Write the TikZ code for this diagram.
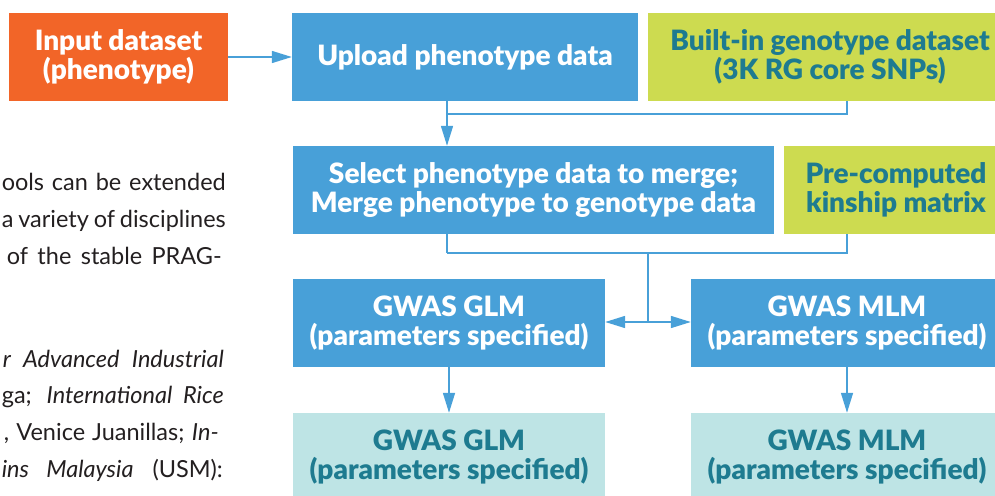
\documentclass[tikz,border=0pt]{standalone}
\usepackage{fontspec}
\setmainfont{Lato}
\newfontfamily\boxfont{Lato Black}
\usetikzlibrary{arrows.meta,calc}
\definecolor{orng}{HTML}{F26528}
\definecolor{blu}{HTML}{48A0D8}
\definecolor{lime}{HTML}{CDDB50}
\definecolor{ltteal}{HTML}{BEE4E5}
\definecolor{dkteal}{HTML}{1E7B90}
\definecolor{txt}{HTML}{231F20}
\begin{document}
\begin{tikzpicture}[x=1pt,y=-1pt,
  box/.style={rectangle, inner sep=0pt, align=center, minimum height=88pt,
    font=\fontsize{28}{28.5}\selectfont\boxfont},
  bluebox/.style={box, fill=blu, text=white},
  limebox/.style={box, fill=lime, text=dkteal},
  outbox/.style={box, fill=ltteal, text=dkteal},
  link/.style={draw=blu, line width=1.5pt},
  arr/.style={link, -{Triangle[length=20pt,width=12pt]}},
  body/.style={inner sep=0pt, text=txt, font=\fontsize{23.5}{37}\selectfont, anchor=base east}]
\useasboundingbox (0,0) rectangle (995,495);
\clip (0,0) rectangle (995,495);

% boxes
\node[box, fill=orng, text=white, minimum width=219pt] (input) at (118.5,57) {Input dataset\\(phenotype)};
\node[bluebox, minimum width=346pt] (upload) at (465,57) {Upload phenotype data};
\node[limebox, minimum width=364pt] (geno) at (830,57) {Built-in genotype dataset\\(3K RG core SNPs)};
\node[bluebox, minimum width=481pt] (select) at (533.5,190) {Select phenotype data to merge;\\Merge phenotype to genotype data};
\node[limebox, minimum width=224pt] (kin) at (896,190) {Pre-computed\\kinship matrix};
\node[bluebox, minimum width=312pt] (glm) at (449,323) {GWAS GLM\\(parameters specified)};
\node[bluebox, minimum width=312pt] (mlm) at (847,323) {GWAS MLM\\(parameters specified)};
\node[outbox, minimum width=312pt] (glmout) at (449,457) {GWAS GLM\\(parameters specified)};
\node[outbox, minimum width=312pt] (mlmout) at (847,457) {GWAS MLM\\(parameters specified)};

% connectors
\coordinate (j1) at (447,114);
\coordinate (j2) at (447,253);
\coordinate (j3) at (648,253);
\coordinate (j4) at (648,322);
\draw[arr] (input) -- (upload);
\draw[arr] (upload.south -| j1) -- (select.north -| j1);
\draw[link] (geno.south -| mlm) |- (j1);
\draw[link] (select.south -| j1) -- (j2);
\draw[link] (kin.south -| mlm) |- (j2);
\draw[link] (j3) -- (j4);
\draw[arr] (j4) -- (glm.east |- j4);
\draw[arr] (j4) -- (mlm.west |- j4);
\draw[arr] (glm) -- (glmout);
\draw[arr] (mlm) -- (mlmout);

% body text (visible part of a cropped paragraph)
\node[body] (t1) at (226,190) {\makebox[224pt][s]{ools can be extended}};
\node[body] (t2) at (226,227) {\makebox[224pt][s]{a variety of disciplines}};
\node[body] (t3) at (222,264) {\makebox[215pt][s]{of the stable PRAG-}};
\node[body] (t4) at (224,367) {\makebox[221pt][s]{\textit{r Advanced Industrial}}};
\node[body] (t5) at (224,403) {\makebox[222pt][s]{ga; \textit{International Rice}}};
\node[body] (t6) at (219,440) {\makebox[215pt][s]{, Venice Juanillas; \textit{In-}}};
\node[body] (t7) at (223,477) {\makebox[221pt][s]{\textit{ins Malaysia} (USM):}};
\end{tikzpicture}
\end{document}
